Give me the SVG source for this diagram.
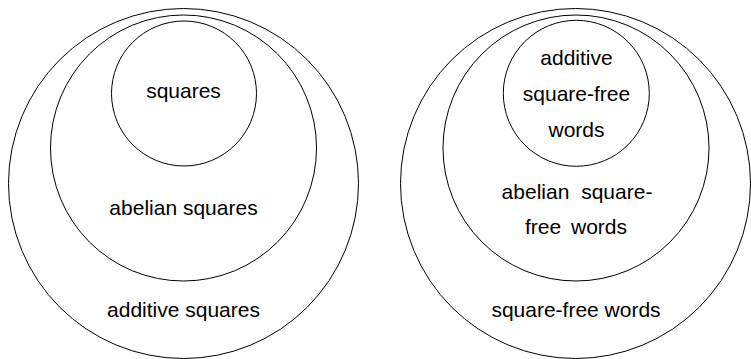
<svg xmlns="http://www.w3.org/2000/svg" width="751" height="359" viewBox="0 0 751 359">
<style>
circle{fill:none;stroke:#000;stroke-width:1}
text{font-family:"Liberation Sans",Arial,sans-serif;font-size:21px;fill:#000;text-anchor:middle}
</style>
<rect width="751" height="359" fill="#fff"/>
<g id="additive-squares"><circle cx="183.5" cy="183.5" r="175"/><text x="183.5" y="316.5">additive squares</text></g>
<g id="abelian-squares"><circle cx="183.5" cy="148" r="133"/><text x="183.5" y="214.5">abelian squares</text></g>
<g id="squares"><circle cx="184" cy="93.5" r="72.5"/><text x="183.5" y="97.5">squares</text></g>
<g id="square-free-words"><circle cx="575.5" cy="183.5" r="175"/><text x="576" y="316.5">square-free words</text></g>
<g id="abelian-square-free-words"><circle cx="576" cy="148" r="133"/><text x="577" y="198.7" word-spacing="6">abelian square-</text><text x="576" y="233.8" word-spacing="4">free words</text></g>
<g id="additive-square-free-words"><circle cx="576.3" cy="93.3" r="73"/><text x="576.5" y="64.5">additive</text><text x="576.5" y="100.8">square-free</text><text x="576.5" y="137">words</text></g>
<g id="connectors"/>
</svg>
